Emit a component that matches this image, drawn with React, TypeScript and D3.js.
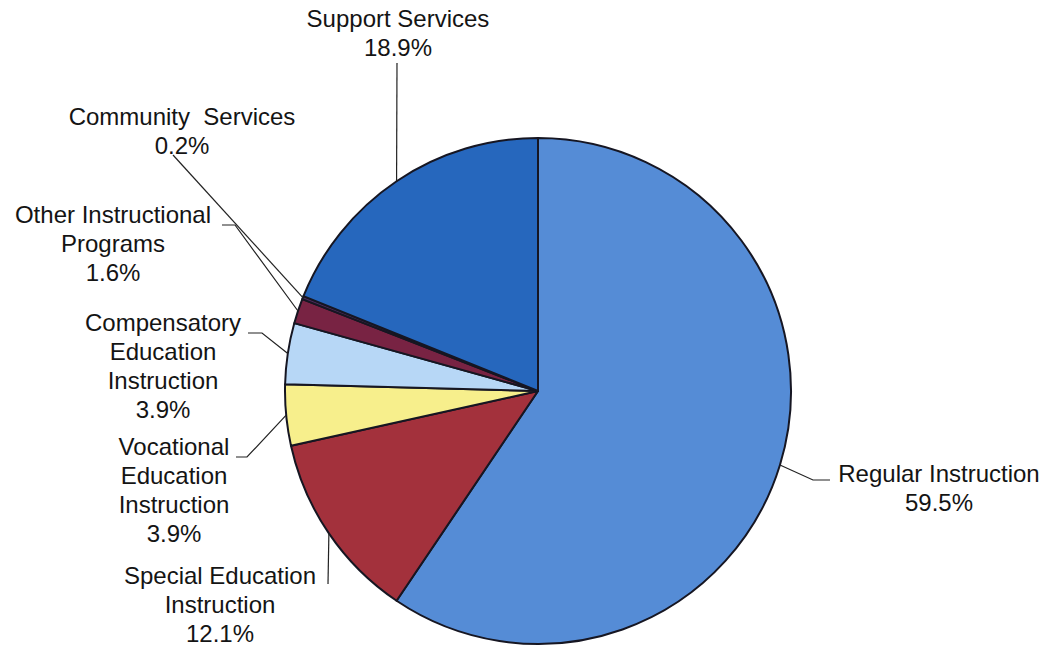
import React from "react";
import * as d3 from "d3";

const categories = [
  "Regular Instruction",
  "Special Education Instruction",
  "Vocational Education Instruction",
  "Compensatory Education Instruction",
  "Other Instructional Programs",
  "Community Services",
  "Support Services",
];
const values = [59.5, 12.1, 3.9, 3.9, 1.6, 0.2, 18.9];
const labelNames = [
  ["Regular Instruction"],
  ["Special Education", "Instruction"],
  ["Vocational", "Education", "Instruction"],
  ["Compensatory", "Education", "Instruction"],
  ["Other Instructional", "Programs"],
  ["Community  Services"],
  ["Support Services"],
];
const colors = ["#558cd6", "#a3313c", "#f7ef8c", "#b7d7f6", "#782343", "#4a2a5a", "#2667bd"];

// label layout: center x, first baseline y, leader points on the label side
const labelLayout = [
  { x: 939, y: 482, leader: [[830, 480], [813, 480]] },
  { x: 220, y: 584, leader: [[328, 584]] },
  { x: 174, y: 455, leader: [[236, 457], [247, 457]] },
  { x: 163, y: 331, leader: [[248, 333], [262, 333]] },
  { x: 113, y: 223, leader: [[222, 225], [235, 225]] },
  { x: 182, y: 125, leader: [[173, 155]] },
  { x: 398, y: 27, leader: [[397, 63]] },
];

const W = 1049;
const H = 647;
const CX = 538;
const CY = 391;
const R = 253;
const LINE = 29;

export default function App() {
  const data = categories.map((c, i) => ({ c, v: values[i], i }));
  const pie = d3.pie<any>().value((d: any) => d.v).sort(null).startAngle(0).endAngle(2 * Math.PI);
  const arcs = pie(data);
  const arc = d3.arc<any>().innerRadius(0).outerRadius(R);

  return (
    <svg
      width={W}
      height={H}
      style={{ position: "absolute", left: 0, top: 0, display: "block", background: "#fff" }}
    >
      <g transform={`translate(${CX},${CY})`}>
        {arcs.map((a: any, i: number) => (
          <path
            key={i}
            d={arc(a) || ""}
            fill={colors[i]}
            stroke="#161622"
            strokeWidth={2}
            strokeLinejoin="round"
          />
        ))}
      </g>
      {arcs.map((a: any, i: number) => {
        const mid = (a.startAngle + a.endAngle) / 2;
        const rx = CX + R * Math.sin(mid);
        const ry = CY - R * Math.cos(mid);
        const pts = [...labelLayout[i].leader, [rx, ry]];
        const line = d3.line()(pts as [number, number][]);
        return (
          <path key={"l" + i} d={line || ""} fill="none" stroke="#222" strokeWidth={1.2} />
        );
      })}
      {labelLayout.map((L, i) => {
        const lines = [...labelNames[i], `${values[i].toFixed(1)}%`];
        return (
          <text
            key={"t" + i}
            x={L.x}
            y={L.y}
            textAnchor="middle"
            fontFamily="'Liberation Sans', Arial, sans-serif"
            fontSize={24}
            fill="#141414"
            style={{ whiteSpace: "pre" }}
          >
            {lines.map((s, j) => (
              <tspan key={j} x={L.x} y={L.y + j * LINE}>
                {s}
              </tspan>
            ))}
          </text>
        );
      })}
    </svg>
  );
}
